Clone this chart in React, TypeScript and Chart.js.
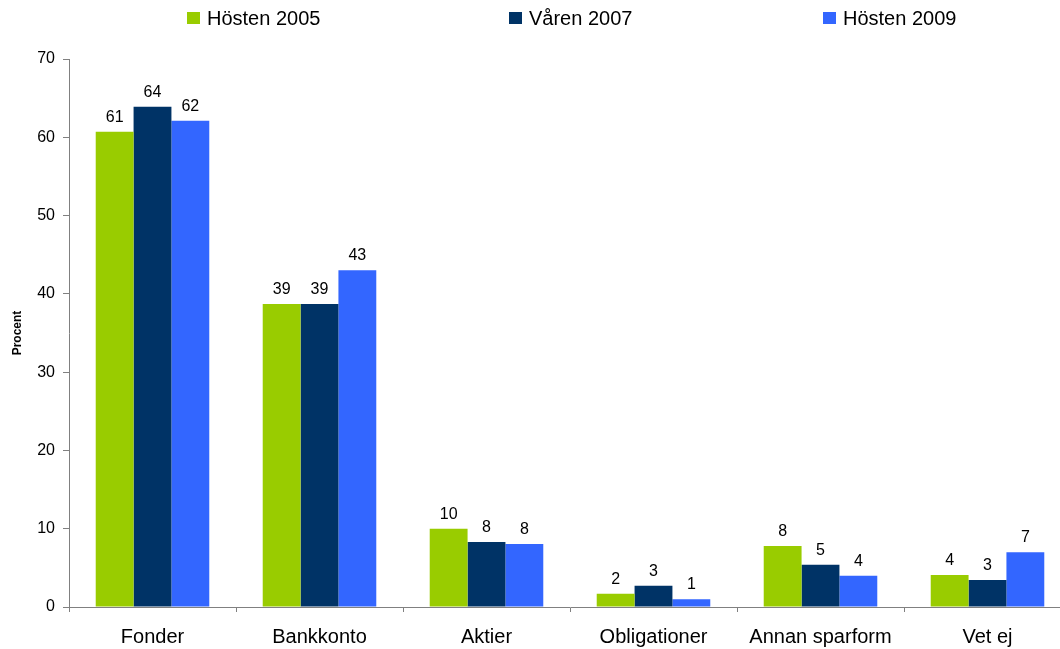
import React, { useEffect, useRef } from "react";
import { Chart, registerables } from "chart.js";

Chart.register(...registerables);

const categories = ["Fonder", "Bankkonto", "Aktier", "Obligationer", "Annan sparform", "Vet ej"];
const seriesNames = ["Hösten 2005", "Våren 2007", "Hösten 2009"];
const hosten2005 = [60.7, 38.7, 10.0, 1.7, 7.8, 4.1];
const varen2007 = [63.9, 38.7, 8.3, 2.7, 5.4, 3.45];
const hosten2009 = [62.1, 43.0, 8.05, 1.0, 4.0, 7.0];
const seriesColors = ["#99CC00", "#003366", "#3366FF"];
const legendX = [187, 509, 823];
const FONT = "'Liberation Sans', Arial, sans-serif";

const valueLabels = {
  id: "valueLabels",
  afterDatasetsDraw(chart: any) {
    const ctx = chart.ctx;
    ctx.save();
    ctx.font = `16px ${FONT}`;
    ctx.fillStyle = "#000";
    ctx.textAlign = "center";
    ctx.textBaseline = "alphabetic";
    chart.data.datasets.forEach((ds: any, i: number) => {
      const meta = chart.getDatasetMeta(i);
      meta.data.forEach((bar: any, j: number) => {
        ctx.fillText(String(Math.round(ds.data[j])), bar.x, bar.y - 10);
      });
    });
    ctx.restore();
  },
};

const topLegend = {
  id: "topLegend",
  afterDraw(chart: any) {
    const ctx = chart.ctx;
    ctx.save();
    ctx.font = `20px ${FONT}`;
    ctx.textAlign = "left";
    ctx.textBaseline = "alphabetic";
    chart.data.datasets.forEach((ds: any, i: number) => {
      const x = legendX[i];
      ctx.fillStyle = ds.backgroundColor;
      ctx.fillRect(x, 12, 13, 12);
      ctx.fillStyle = "#000";
      ctx.fillText(ds.label, x + 20, 25);
    });
    ctx.restore();
  },
};

export default function App() {
  const ref = useRef<HTMLCanvasElement>(null);
  useEffect(() => {
    if (!ref.current) return;
    const data = [hosten2005, varen2007, hosten2009];
    const chart = new Chart(ref.current, {
      type: "bar",
      data: {
        labels: categories,
        datasets: seriesNames.map((name, i) => ({
          label: name,
          data: data[i],
          backgroundColor: seriesColors[i],
          borderWidth: 0,
          categoryPercentage: 0.68,
          barPercentage: 1.0,
        })),
      },
      options: {
        animation: false,
        responsive: false,
        maintainAspectRatio: false,
        layout: { padding: { top: 59, right: 1, left: 0, bottom: 0 } },
        plugins: { legend: { display: false }, tooltip: { enabled: false } },
        scales: {
          x: {
            grid: {
              offset: true,
              drawOnChartArea: false,
              drawTicks: true,
              tickLength: 5,
              color: "#808080",
            },
            border: { color: "#808080", width: 1 },
            ticks: {
              color: "#000",
              font: { family: FONT, size: 20 },
              padding: 13,
              maxRotation: 0,
            },
            afterFit: (s: any) => {
              s.height = 42;
            },
          },
          y: {
            min: 0,
            max: 70,
            ticks: {
              stepSize: 10,
              color: "#000",
              font: { family: FONT, size: 16 },
              padding: 8,
            },
            grid: {
              drawOnChartArea: false,
              drawTicks: true,
              tickLength: 6,
              color: "#808080",
            },
            border: { color: "#808080", width: 1 },
            title: {
              display: true,
              text: "Procent",
              color: "#000",
              font: { family: FONT, size: 12, weight: "bold" },
              padding: { top: 10, bottom: 0 },
            },
            afterFit: (s: any) => {
              s.width = 69;
            },
          },
        },
      },
      plugins: [valueLabels, topLegend],
    });
    return () => chart.destroy();
  }, []);
  return (
    <div style={{ position: "fixed", left: 0, top: 0, width: 1060, height: 649, overflow: "hidden", background: "#fff" }}>
      <canvas ref={ref} width={1072} height={649} style={{ display: "block" }} />
    </div>
  );
}
